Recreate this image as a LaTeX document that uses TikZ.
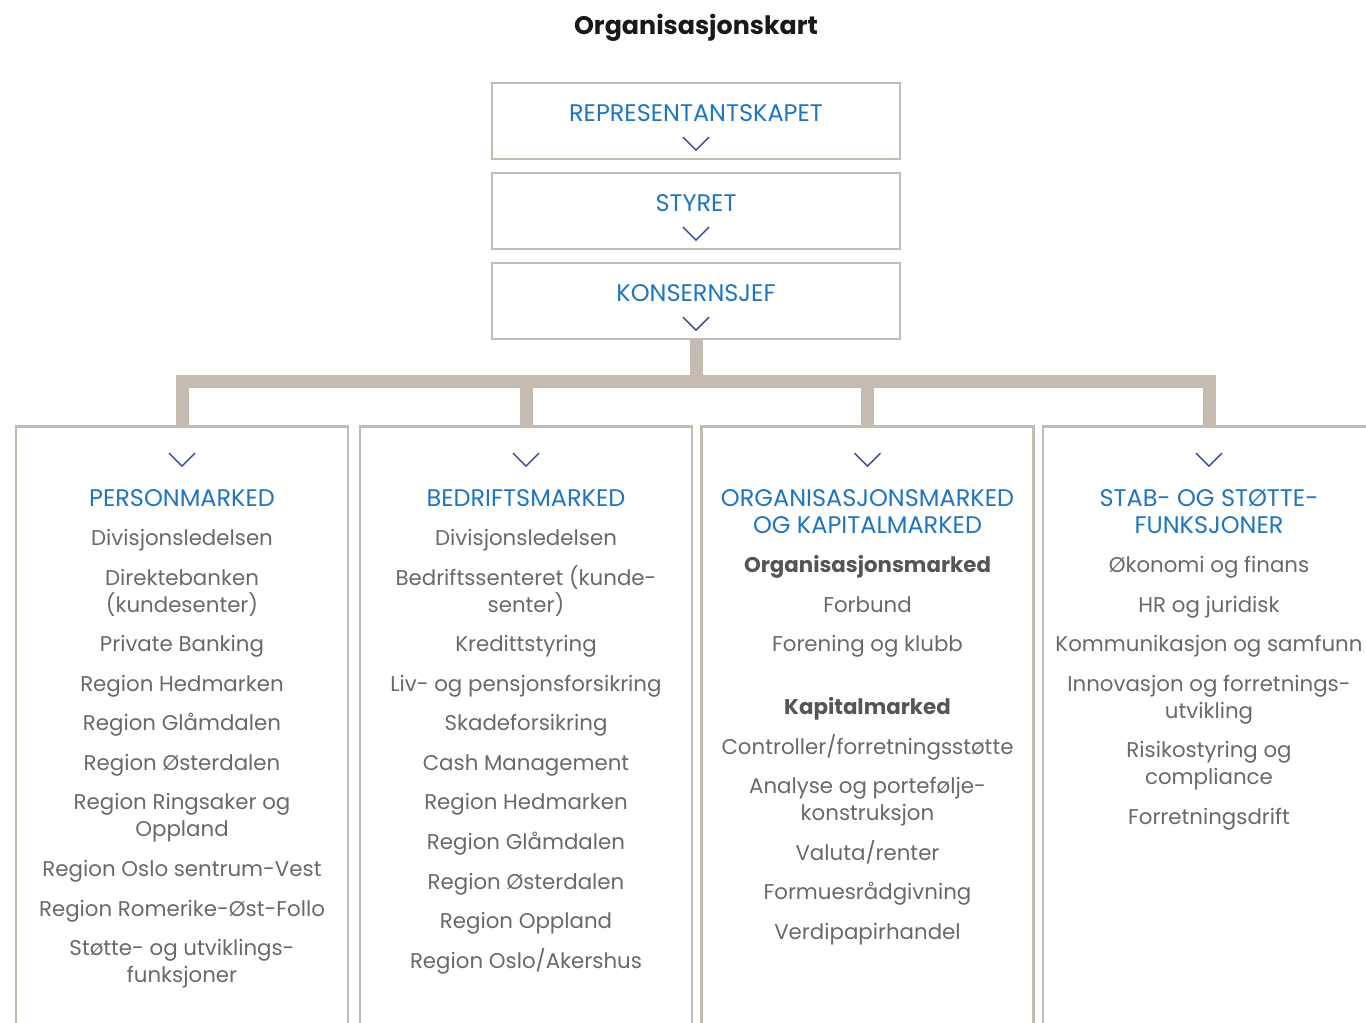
\documentclass[tikz,border=0pt]{standalone}
\usepackage{fontspec}
\setmainfont{Poppins}
\usepackage{tikz}

\definecolor{framec}{RGB}{197,187,176}
\definecolor{hblue}{RGB}{31,117,190}
\definecolor{tgray}{RGB}{105,105,105}
\definecolor{tbold}{RGB}{85,85,85}
\definecolor{chevc}{RGB}{58,70,150}
\definecolor{tdark}{RGB}{25,25,25}

\newcommand{\chev}[1]{\draw[chevron] #1 ++(-13,-6.5) -- ++(13,13) -- ++(13,-13);}
\newcommand{\hd}[1]{{\color{hblue}\fontsize{18}{20.25}\selectfont #1}}
\newcommand{\bd}[1]{\textcolor{tbold}{\bfseries #1}}

\begin{document}
\begin{tikzpicture}[x=0.75pt,y=0.75pt,yscale=-1,
  frame/.style={draw=framec, line width=2.2pt, minimum width=306pt, minimum height=57pt, inner sep=0pt},
  colbox/.style={draw=framec, line width=1.9pt, minimum width=249pt, minimum height=600pt, anchor=north, inner sep=0pt},
  toptxt/.style={text=hblue, inner sep=0pt, font=\fontsize{18}{20.25}\selectfont},
  coltxt/.style={text=tgray, align=center, anchor=north, inner sep=0pt, font=\fontsize{16}{20.25}\selectfont},
  chevron/.style={draw=chevc, line width=1.1pt},
  bar/.style={draw=framec, line width=9.75pt}]
\clip (0,0) rectangle (1366,1022);

% Title
\node[text=tdark, font=\fontsize{19}{22}\selectfont\bfseries] (title) at (696,28) {Organisasjonskart};

% Top boxes
\node[frame] (rep) at (696,121) {};
\node[frame] (sty) at (696,211) {};
\node[frame] (ksj) at (696,301) {};
\node[toptxt] (repT) at ([yshift=-6pt]rep.center) {REPRESENTANTSKAPET};
\node[toptxt] (styT) at ([yshift=-6pt]sty.center) {STYRET};
\node[toptxt] (ksjT) at ([yshift=-6pt]ksj.center) {KONSERNSJEF};
\chev{([yshift=17pt]rep.center)}
\chev{([yshift=17pt]sty.center)}
\chev{([yshift=17pt]ksj.center)}

% Column boxes
\node[colbox] (colA) at (182,425) {};
\node[colbox] (colB) at (526,425) {};
\node[colbox] (colC) at (867.5,425) {};
\node[colbox] (colD) at (1209,425) {};
\foreach \c in {colA,colB,colC,colD}{
  \chev{([yshift=26pt]\c.north)}
}

% Connectors
\coordinate (bar) at (696,381);
\draw[bar] (ksj.south) -- (ksj.south |- bar);
\draw[bar] (colA.north) -- (colA.north |- bar) -- (colD.north |- bar) -- (colD.north);
\draw[bar] (colB.north) -- (colB.north |- bar);
\draw[bar] (colC.north) -- (colC.north |- bar);

% Column texts
\node[coltxt] (txtA) at ([yshift=48pt]colA.north) {\hd{PERSONMARKED}\\[9.4pt]
  Divisjonsledelsen\\[9.4pt]
  Direktebanken\\(kundesenter)\\[9.4pt]
  Private Banking\\[9.4pt]
  Region Hedmarken\\[9.4pt]
  Region Glåmdalen\\[9.4pt]
  Region Østerdalen\\[9.4pt]
  Region Ringsaker og\\Oppland\\[9.4pt]
  Region Oslo sentrum-Vest\\[9.4pt]
  Region Romerike-Øst-Follo\\[9.4pt]
  Støtte- og utviklings-\\funksjoner};
\node[coltxt] (txtB) at ([yshift=48pt]colB.north) {\hd{BEDRIFTSMARKED}\\[9.4pt]
  Divisjonsledelsen\\[9.4pt]
  Bedriftssenteret (kunde-\\senter)\\[9.4pt]
  Kredittstyring\\[9.4pt]
  Liv- og pensjonsforsikring\\[9.4pt]
  Skadeforsikring\\[9.4pt]
  Cash Management\\[9.4pt]
  Region Hedmarken\\[9.4pt]
  Region Glåmdalen\\[9.4pt]
  Region Østerdalen\\[9.4pt]
  Region Oppland\\[9.4pt]
  Region Oslo/Akershus};
\node[coltxt] (txtC) at ([yshift=48pt]colC.north) {\hd{ORGANISASJONSMARKED}\\\hd{OG KAPITALMARKED}\\[9.4pt]
  \bd{Organisasjonsmarked}\\[9.4pt]
  Forbund\\[9.4pt]
  Forening og klubb\\[27pt]
  \bd{Kapitalmarked}\\[9.4pt]
  Controller/forretningsstøtte\\[9.4pt]
  Analyse og portefølje-\\konstruksjon\\[9.4pt]
  Valuta/renter\\[9.4pt]
  Formuesrådgivning\\[9.4pt]
  Verdipapirhandel};
\node[coltxt] (txtD) at ([yshift=48pt]colD.north) {\hd{STAB- OG STØTTE-}\\\hd{FUNKSJONER}\\[9.4pt]
  Økonomi og finans\\[9.4pt]
  HR og juridisk\\[9.4pt]
  Kommunikasjon og samfunn\\[9.4pt]
  Innovasjon og forretnings-\\utvikling\\[9.4pt]
  Risikostyring og\\compliance\\[9.4pt]
  Forretningsdrift};
\end{tikzpicture}
\end{document}
